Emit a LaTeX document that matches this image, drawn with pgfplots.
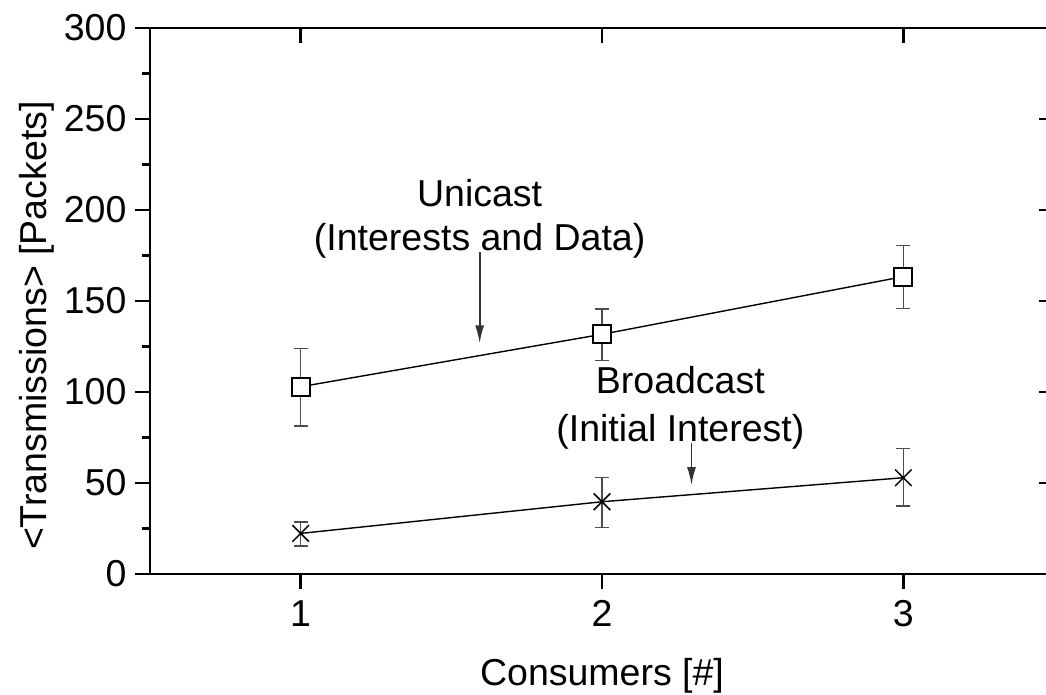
\documentclass[border=0pt]{standalone}
\usepackage{fontspec}
\setmainfont{Liberation Sans}
\usepackage{pgfplots}
\usepackage{pgfplotstable}
\pgfplotsset{compat=1.18}
\usetikzlibrary{arrows.meta}

\newcommand\lbl{\fontsize{37.5}{45}\selectfont}

% x, mean, error up, error down
\pgfplotstableread{
x y eplus eminus
1 102.9 21.1 21.6
2 131.7 13.9 14.3
3 163.4 17.0 17.6
}\unicast
\pgfplotstableread{
x y eplus eminus
1 22.3 6.4 6.8
2 39.7 13.4 14.1
3 52.9 16.0 15.5
}\broadcast

\begin{document}
\begin{tikzpicture}
\pgfplotsset{
  frame/.style={
    scale only axis, width=904pt, height=546pt,
    xmin=0.5, xmax=3.5, ymin=0, ymax=300,
    xtick={1,2,3}, ytick={0,50,...,300},
    major tick length=15pt, minor tick length=8pt,
    axis line style={line width=2.7pt},
    every tick/.style={line width=2.7pt, black},
    /pgf/number format/assume math mode=true,
    tick label style={font=\lbl},
  },
}
\begin{axis}[frame,
    axis x line*=bottom, axis y line*=left, tick align=outside,
    minor ytick={25,75,...,275},
    yticklabel style={xshift=-5pt},
    xticklabel style={yshift=-8pt},
    xlabel={Consumers [\#]}, ylabel={<Transmissions> [Packets]},
    every axis x label/.style={font=\lbl, at={(axis description cs:0.5,-0.2046)}, anchor=base},
    every axis y label/.style={font=\lbl, at={(axis description cs:-0.114,0.455)}, anchor=base, rotate=90},
    error bars/error bar style={line width=1.6pt, black!70},
    error bars/error mark options={rotate=90, mark size=7pt, line width=1.6pt, black!70},
  ]
  \coordinate (sw) at (rel axis cs:0,0);
  \addplot[black, line width=1.4pt, mark=square*, mark size=9pt,
      mark options={fill=white, line width=1.8pt},
      error bars/.cd, y dir=both, y explicit]
    table[x=x, y=y, y error plus=eplus, y error minus=eminus] {\unicast};
  \addplot[black, line width=1.4pt, mark=x, mark size=11.7pt,
      mark options={line width=1.5pt},
      error bars/.cd, y dir=both, y explicit]
    table[x=x, y=y, y error plus=eplus, y error minus=eminus] {\broadcast};

  \node[font=\lbl, anchor=base] at (axis cs:1.594,201.8) {Unicast};
  \node[font=\lbl, anchor=base] at (axis cs:1.594,177.6) {(Interests and Data)};
  \draw[line width=1.8pt, black!80, -{Latex[length=18pt, width=9pt]}]
    (axis cs:1.594,177) -- (axis cs:1.594,126.7);
  \node[font=\lbl, anchor=base] at (axis cs:2.26,98.9) {Broadcast};
  \node[font=\lbl, anchor=base] at (axis cs:2.26,72.7) {(Initial Interest)};
  \draw[line width=1.8pt, black!80, -{Latex[length=18pt, width=9pt]}]
    (axis cs:2.297,71.8) -- (axis cs:2.297,48.9);
\end{axis}
\begin{axis}[frame,
    axis x line*=top, axis y line*=right, tick align=inside,
    xticklabels={}, yticklabels={},
  ]
\end{axis}
\pgfresetboundingbox
\useasboundingbox (sw) ++(-150pt,-121pt) rectangle ++(1046pt,695pt);
\end{tikzpicture}
\end{document}
